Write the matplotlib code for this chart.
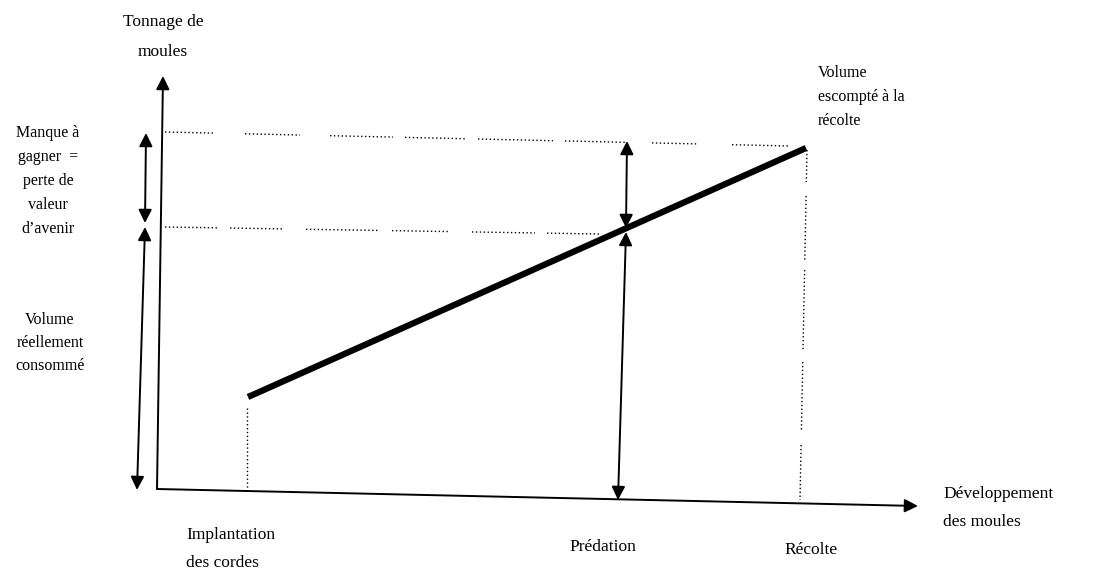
import matplotlib.pyplot as plt

# growth line (pixel coords of the schematic)
line_x = [248, 806]
line_y = [397, 148]

# axes ends
yaxis_x = [157, 163]
yaxis_y = [489, 76]
xaxis_x = [157, 918]
xaxis_y = [489, 506]

# dotted guide lines, drawn as broken segments (x start, x end)
top_segs = [(165, 215), (245, 300), (330, 393), (405, 467), (478, 553),
            (565, 627), (652, 698), (732, 790)]
top_y = (132, 146)          # y at x=165 and x=790
mid_segs = [(165, 217), (230, 282), (306, 378), (392, 448), (472, 535),
            (547, 600)]
mid_y = (227, 234)          # y at x=165 and x=600
left_vsegs = [(408, 492)]
right_vsegs = [(150, 182), (196, 260), (270, 350), (362, 430), (445, 500)]

plt.rcParams['font.family'] = ['Liberation Serif', 'DejaVu Serif']

fig = plt.figure(figsize=(11.05, 5.79), dpi=100)
ax = fig.add_axes([0, 0, 1, 1])
ax.set_xlim(0, 1105)
ax.set_ylim(579, 0)
ax.axis('off')


def arrow(x0, y0, x1, y1, both=False):
    style = '<|-|>' if both else '-|>'
    ax.annotate('', xy=(x1, y1), xytext=(x0, y0),
                arrowprops=dict(arrowstyle=style, color='black', lw=1.4,
                                mutation_scale=20, shrinkA=0, shrinkB=0))


def hdots(segs, ys, x0, x1):
    for a, b in segs:
        ya = ys[0] + (ys[1] - ys[0]) * (a - x0) / (x1 - x0)
        yb = ys[0] + (ys[1] - ys[0]) * (b - x0) / (x1 - x0)
        ax.plot([a, b], [ya, yb], color='black', lw=1.0, ls=(0, (1, 1.8)))


def vdots(segs, xs, y0, y1):
    for a, b in segs:
        xa = xs[0] + (xs[1] - xs[0]) * (a - y0) / (y1 - y0)
        xb = xs[0] + (xs[1] - xs[0]) * (b - y0) / (y1 - y0)
        ax.plot([xa, xb], [a, b], color='black', lw=1.0, ls=(0, (1, 1.8)))


# axes
arrow(yaxis_x[0], yaxis_y[0], yaxis_x[1], yaxis_y[1])
arrow(xaxis_x[0], xaxis_y[0], xaxis_x[1], xaxis_y[1])

# dotted lines
hdots(top_segs, top_y, 165, 790)
hdots(mid_segs, mid_y, 165, 600)
vdots(left_vsegs, (247, 247), 408, 492)
vdots(right_vsegs, (807, 800), 150, 500)

# main line
ax.plot(line_x, line_y, color='black', lw=4.5, solid_capstyle='butt')

# left double arrows
arrow(146, 133, 145, 223, both=True)
arrow(145, 227, 137, 490, both=True)

# predation double arrows
arrow(627, 141, 626, 228, both=True)
arrow(626, 232, 618, 500, both=True)

fs = 12.5
ax.text(163, 22, 'Tonnage de', ha='center', va='center', fontsize=fs)
ax.text(163, 52, 'moules', ha='center', va='center', fontsize=fs)

for i, t in enumerate(['Manque à', 'gagner  =', 'perte de', 'valeur', 'd’avenir']):
    ax.text(48, 133 + i * 24, t, ha='center', va='center', fontsize=fs - 1)
for i, t in enumerate(['Volume', 'réellement', 'consommé']):
    ax.text(50, 320 + i * 23, t, ha='center', va='center', fontsize=fs - 1)
for i, t in enumerate(['Volume', 'escompté à la', 'récolte']):
    ax.text(818, 73 + i * 24, t, ha='left', va='center', fontsize=fs - 1)

ax.text(186, 535, 'Implantation', ha='left', va='center', fontsize=fs)
ax.text(186, 563, 'des cordes', ha='left', va='center', fontsize=fs)
ax.text(603, 547, 'Prédation', ha='center', va='center', fontsize=fs)
ax.text(811, 550, 'Récolte', ha='center', va='center', fontsize=fs)
ax.text(943, 494, 'Développement', ha='left', va='center', fontsize=fs)
ax.text(943, 522, 'des moules', ha='left', va='center', fontsize=fs)

fig.savefig('out.png', dpi=100, facecolor='white')
